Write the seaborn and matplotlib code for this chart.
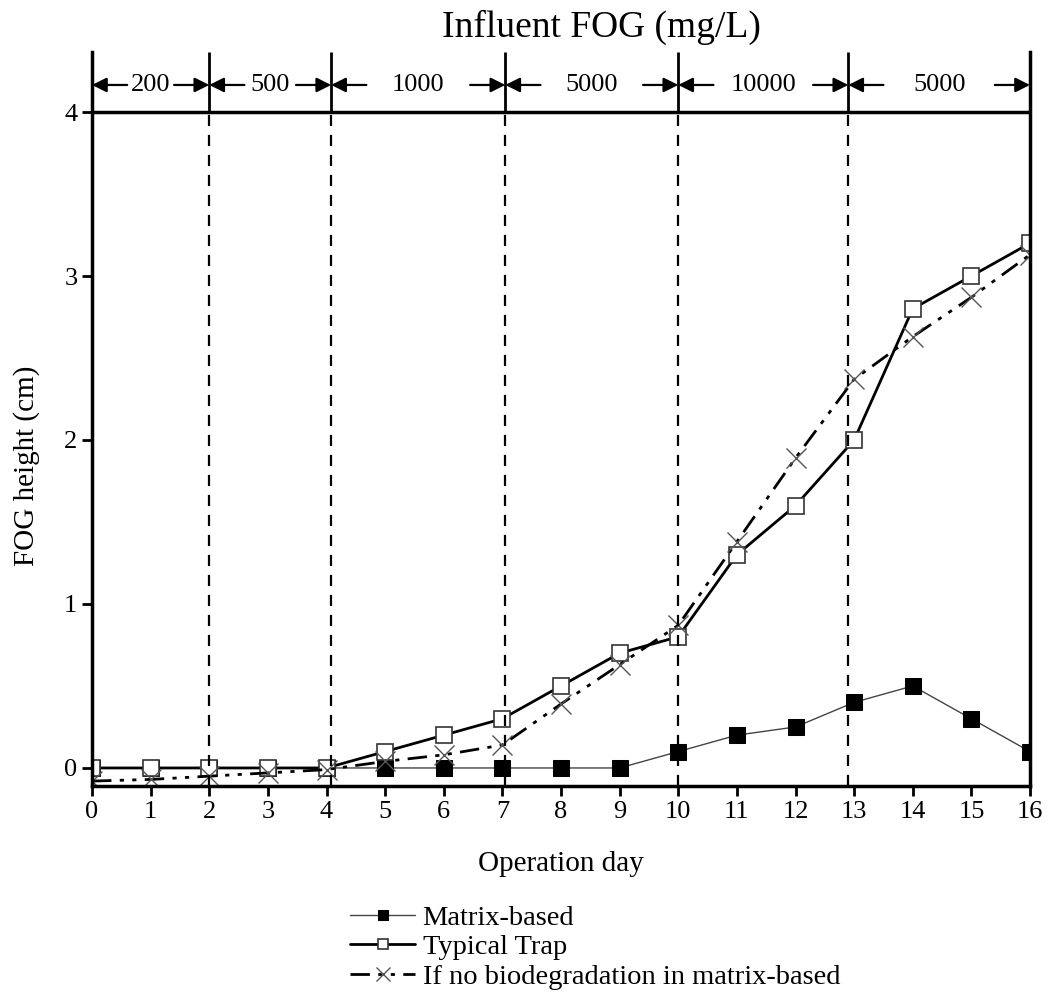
import numpy as np
import pandas as pd
import seaborn as sns
import matplotlib
matplotlib.use('Agg')
import matplotlib.pyplot as plt

# 數據: 從圖上讀取
days = list(range(17))
matrix_based = [0, 0, 0, 0, 0, 0, 0, 0, 0, 0, 0.1, 0.2, 0.25, 0.4, 0.5, 0.3, 0.1]
typical_trap = [0, 0, 0, 0, 0, 0.1, 0.2, 0.3, 0.5, 0.7, 0.8, 1.3, 1.6, 2.0, 2.8, 3.0, 3.2]
no_biodeg = [-0.08, -0.07, -0.05, -0.03, -0.01, 0.04, 0.08, 0.14, 0.39, 0.63,
             0.87, 1.38, 1.89, 2.37, 2.63, 2.87, 3.13]

# 進流 FOG 濃度分段
phase_edges = [0, 2, 4.08, 7.05, 10, 12.9, 16]
phase_labels = ['200', '500', '1000', '5000', '10000', '5000']

sns.set_style('ticks')
plt.rcParams['font.family'] = ['Liberation Serif', 'DejaVu Serif']
for k in ['text.color', 'axes.labelcolor', 'xtick.color', 'ytick.color', 'axes.edgecolor']:
    plt.rcParams[k] = 'black'

fig = plt.figure(figsize=(10.49, 10.05), dpi=100)
ax = fig.add_axes([92 / 1049, 1 - 786 / 1005, (1030 - 92) / 1049, (786 - 52) / 1005])

ymin, ytop = -0.11, 4.366

sns.lineplot(x=days, y=matrix_based, ax=ax, color='#444444', lw=1.0,
             marker='s', markersize=11, markerfacecolor='black',
             markeredgecolor='black', label='Matrix-based')
sns.lineplot(x=days, y=typical_trap, ax=ax, color='black', lw=2.0,
             marker='s', markersize=11, markerfacecolor='white',
             markeredgecolor='#333333', markeredgewidth=1.2, label='Typical Trap')
sns.lineplot(x=days, y=no_biodeg, ax=ax, color='black', lw=2.0,
             linestyle=(0, (7, 3, 1.5, 3, 1.5, 3)),
             marker='x', markersize=14, markeredgecolor='#555555',
             markeredgewidth=1.0, label='If no biodegradation in matrix-based')

ax.set_xlim(0, 16)
ax.set_ylim(ymin, ytop)
ax.set_xticks(range(17))
ax.set_yticks([0, 1, 2, 3, 4])
ax.tick_params(axis='both', direction='out', length=7, width=2, labelsize=19)
ax.tick_params(axis='x', pad=4)
ax.spines['top'].set_visible(False)
for s in ['left', 'right', 'bottom']:
    ax.spines[s].set_linewidth(2.5)

ax.axhline(4, color='black', lw=2.5)

# 分段線與箭頭
ya = 4.165
for e in phase_edges[1:-1]:
    ax.vlines(e, ymin, 4, colors='black', lw=1.6, linestyles=(0, (5, 4)))
    ax.vlines(e, 4, ytop, colors='black', lw=2.0)
for lab, a, b in zip(phase_labels, phase_edges[:-1], phase_edges[1:]):
    ax.text((a + b) / 2, ya, lab, ha='center', va='center', fontsize=19)
    for tip, tail in [(a, a + 0.6), (b, b - 0.6)]:
        ax.annotate('', xy=(tip, ya), xytext=(tail, ya),
                    arrowprops=dict(arrowstyle='-|>', color='black', lw=1.6,
                                    mutation_scale=22, shrinkA=0, shrinkB=0))

ax.set_xlabel('Operation day', fontsize=21, labelpad=20)
ax.set_ylabel('FOG height (cm)', fontsize=21)
ax.yaxis.set_label_coords(-(92 - 40) / 938, (786 - 466) / 734)
fig.text(601 / 1049, 1 - 27 / 1005, 'Influent FOG (mg/L)', ha='center',
         va='center', fontsize=27)

handles, labels = ax.get_legend_handles_labels()
ax.legend_.remove()
fig.legend(handles, labels, loc='upper left', bbox_to_anchor=(350 / 1049, 1 - 905 / 1005),
           frameon=False, fontsize=20.5, handlelength=2.3, handletextpad=0.25,
           labelspacing=0.12, markerscale=0.7, borderaxespad=0, borderpad=0)

fig.savefig('out.png', dpi=100)
